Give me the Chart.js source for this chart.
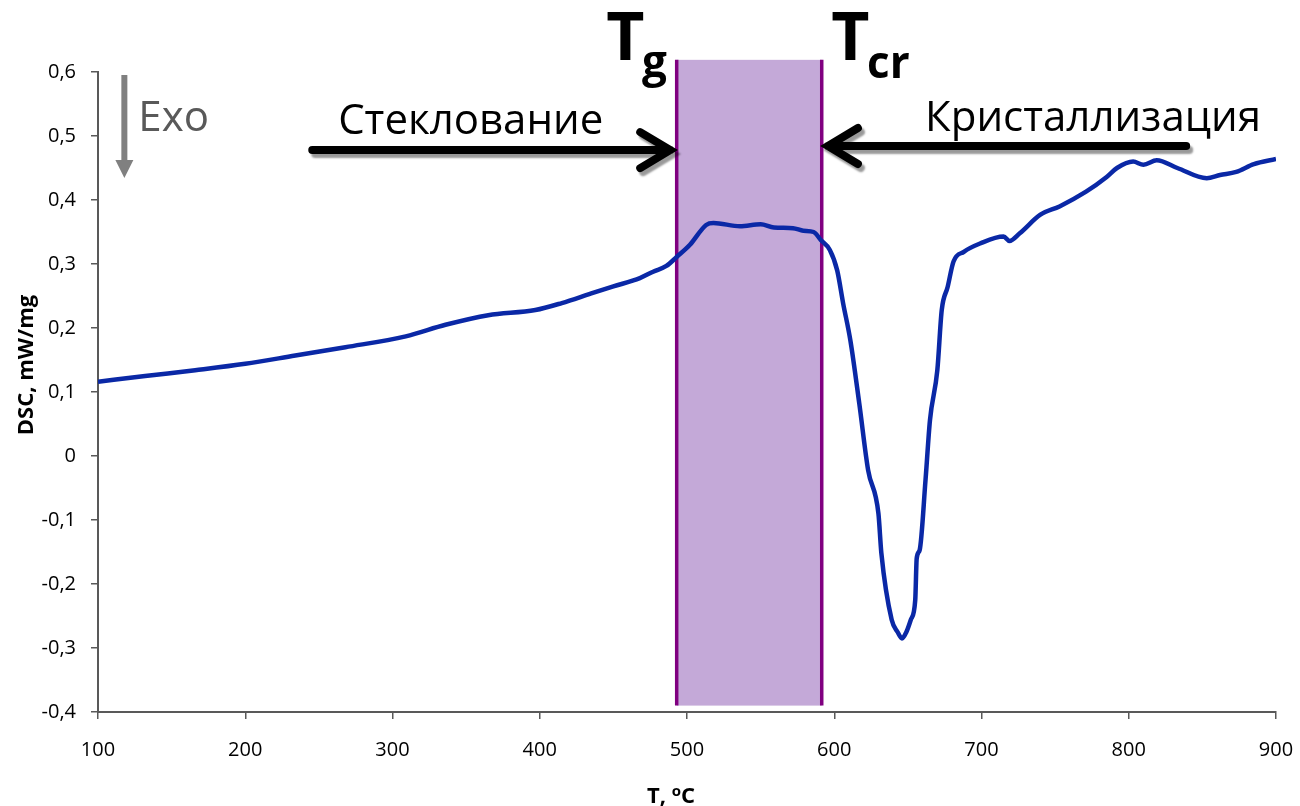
<!DOCTYPE html>
<html>
<head>
<meta charset="utf-8">
<script src="https://cdn.jsdelivr.net/npm/chart.js@4.4.1/dist/chart.umd.min.js"></script>
<style>
  html, body { margin: 0; padding: 0; background: #fff; }
  #wrap { width: 1300px; height: 806px; }
</style>
</head>
<body>
<div id="wrap"><canvas id="dscChart" width="1300" height="806"></canvas></div>
<script>
// DSC curve
const temps = [100, 132, 166, 200, 234, 268, 309, 336, 365, 397, 415, 435, 450, 468, 477, 486, 493,
  502, 513, 518, 536, 550, 559, 572, 579, 586, 591, 597, 602, 606, 611, 617, 623, 630, 632, 639,
  643, 646, 649, 652, 655, 656, 658, 662, 665, 670, 673, 677, 681, 688, 699, 715, 719, 726, 740,
  753, 771, 785, 792, 803, 810, 819, 833, 853, 862, 873, 885, 900];
const dsc = [0.116, 0.125, 0.134, 0.144, 0.157, 0.170, 0.187, 0.205, 0.220, 0.228, 0.239, 0.254,
  0.265, 0.278, 0.288, 0.297, 0.311, 0.330, 0.361, 0.364, 0.359, 0.362, 0.357, 0.356, 0.352, 0.350,
  0.337, 0.322, 0.290, 0.239, 0.180, 0.082, -0.022, -0.090, -0.152, -0.256, -0.275, -0.285, -0.275,
  -0.256, -0.225, -0.160, -0.147, -0.037, 0.056, 0.134, 0.228, 0.264, 0.304, 0.319, 0.332, 0.343,
  0.336, 0.348, 0.377, 0.390, 0.413, 0.436, 0.450, 0.460, 0.455, 0.462, 0.450, 0.434, 0.439, 0.444,
  0.456, 0.464];

// glass transition .. crystallisation band
const bandRange = [493, 591.5];
const bandTop = 0.619;
const bandBottom = -0.39;

const xTicks = [100, 200, 300, 400, 500, 600, 700, 800, 900];
const yTicks = [-0.4, -0.3, -0.2, -0.1, 0, 0.1, 0.2, 0.3, 0.4, 0.5, 0.6];

const FONT = '"Open Sans", "Noto Sans", sans-serif';

const points = temps.map((t, i) => ({ x: t, y: dsc[i] }));

function fmtComma(v) {
    const r = Math.round(v * 10) / 10;
    return String(r).replace('.', ',');
}

function drawArrow(ctx, x1, y, x2, headLen, headHalf) {
    const dir = x2 > x1 ? 1 : -1;
    ctx.save();
    ctx.strokeStyle = '#000';
    ctx.lineWidth = 8;
    ctx.lineJoin = 'miter';
    ctx.lineCap = 'round';
    ctx.shadowColor = 'rgba(0,0,0,0.4)';
    ctx.shadowOffsetX = 3;
    ctx.shadowOffsetY = 4;
    ctx.shadowBlur = 2;
    ctx.beginPath();
    ctx.moveTo(x1, y);
    ctx.lineTo(x2, y);
    ctx.moveTo(x2 - dir * headLen, y - headHalf);
    ctx.lineTo(x2, y);
    ctx.lineTo(x2 - dir * headLen, y + headHalf);
    ctx.stroke();
    ctx.restore();
}

const bandPlugin = {
    id: 'band',
    beforeDatasetsDraw(chart) {
        const { ctx, scales: { x, y } } = chart;
        const l = x.getPixelForValue(bandRange[0]);
        const r = x.getPixelForValue(bandRange[1]);
        const t = y.getPixelForValue(bandTop);
        const b = y.getPixelForValue(bandBottom);
        ctx.save();
        ctx.fillStyle = '#C4A9D8';
        ctx.fillRect(l, t, r - l, b - t);
        ctx.strokeStyle = '#800080';
        ctx.lineWidth = 3.5;
        ctx.beginPath();
        ctx.moveTo(l, t); ctx.lineTo(l, b);
        ctx.moveTo(r, t); ctx.lineTo(r, b);
        ctx.stroke();
        ctx.restore();
    }
};

const notesPlugin = {
    id: 'notes',
    afterDraw(chart) {
        const { ctx, scales: { x, y } } = chart;
        const px = v => x.getPixelForValue(v);
        const py = v => y.getPixelForValue(v);
        ctx.save();
        ctx.textBaseline = 'alphabetic';
        ctx.textAlign = 'left';

        // Exo arrow
        const ax = px(117.9);
        ctx.fillStyle = '#808080';
        ctx.fillRect(ax - 3, py(0.5953), 6, py(0.4344) - py(0.5953) - 16);
        ctx.beginPath();
        ctx.moveTo(ax - 9, py(0.4344) - 18);
        ctx.lineTo(ax + 9, py(0.4344) - 18);
        ctx.lineTo(ax, py(0.4344));
        ctx.closePath();
        ctx.fill();
        ctx.fillStyle = '#595959';
        ctx.font = '42px ' + FONT;
        ctx.fillText('Exo', px(127.4), py(0.5078));

        // labels + arrows
        ctx.fillStyle = '#000';
        ctx.fillText('Стеклование', px(263.1), py(0.503));
        ctx.fillText('Кристаллизация', px(661.7), py(0.508));
        drawArrow(ctx, px(245.5), py(0.478), px(488.6), 30, 18);
        drawArrow(ctx, px(839), py(0.4844), px(595.7), 30, 18);

        // Tg, Tcr
        ctx.font = 'bold 66px ' + FONT;
        ctx.fillText('T', px(445.1), py(0.619));
        ctx.fillText('T', px(597.9), py(0.619));
        ctx.font = 'bold 44px ' + FONT;
        ctx.fillText('g', px(469.5), py(0.592));
        ctx.fillText('cr', px(622.3), py(0.5906));

        // axis titles
        ctx.font = 'bold 22px ' + FONT;
        ctx.save();
        ctx.translate(33, 365);
        ctx.rotate(-Math.PI / 2);
        ctx.textAlign = 'center';
        ctx.fillText('DSC, mW/mg', 0, 0);
        ctx.restore();

        const t1 = 'T, ';
        ctx.font = 'bold 22px ' + FONT;
        const w1 = ctx.measureText(t1).width;
        const wC = ctx.measureText('C').width;
        ctx.font = 'bold 15px ' + FONT;
        const wo = ctx.measureText('o').width;
        const sx = 671 - (w1 + wo + wC) / 2;
        const by = 803;
        ctx.font = 'bold 22px ' + FONT;
        ctx.fillText(t1, sx, by);
        ctx.font = 'bold 15px ' + FONT;
        ctx.fillText('o', sx + w1, by - 7);
        ctx.font = 'bold 22px ' + FONT;
        ctx.fillText('C', sx + w1 + wo, by);
        ctx.restore();
    }
};

document.addEventListener('DOMContentLoaded', () => {
    const ctx = document.getElementById('dscChart');

    new Chart(ctx, {
        type: 'line',
        data: {
            datasets: [{
                label: 'DSC',
                data: points,
                borderColor: '#0A28A6',
                borderWidth: 4.5,
                pointRadius: 0,
                fill: false,
                cubicInterpolationMode: 'monotone'
            }]
        },
        options: {
            responsive: false,
            animation: false,
            layout: { padding: { left: 0, top: 72, right: 24, bottom: 0 } },
            plugins: { legend: { display: false }, tooltip: { enabled: false } },
            scales: {
                x: {
                    type: 'linear',
                    min: 100,
                    max: 900,
                    afterBuildTicks: s => { s.ticks = xTicks.map(v => ({ value: v })); },
                    afterFit: s => { s.height = 94; s.paddingLeft = 0; s.paddingRight = 0; },
                    border: { color: '#595959', width: 2 },
                    grid: { drawOnChartArea: false, color: '#595959', lineWidth: 1.5, tickLength: 7 },
                    ticks: { color: '#000', padding: 19, font: { family: FONT, size: 20 }, maxRotation: 0 }
                },
                y: {
                    min: -0.4,
                    max: 0.6,
                    afterBuildTicks: s => { s.ticks = yTicks.map(v => ({ value: v })); },
                    afterFit: s => { s.width = 98; s.paddingTop = 0; s.paddingBottom = 0; },
                    border: { color: '#595959', width: 2 },
                    grid: { drawOnChartArea: false, color: '#595959', lineWidth: 1.5, tickLength: 7 },
                    ticks: {
                        color: '#000',
                        padding: 15,
                        font: { family: FONT, size: 20 },
                        callback: v => fmtComma(v)
                    }
                }
            }
        },
        plugins: [bandPlugin, notesPlugin]
    });
});
</script>
</body>
</html>
